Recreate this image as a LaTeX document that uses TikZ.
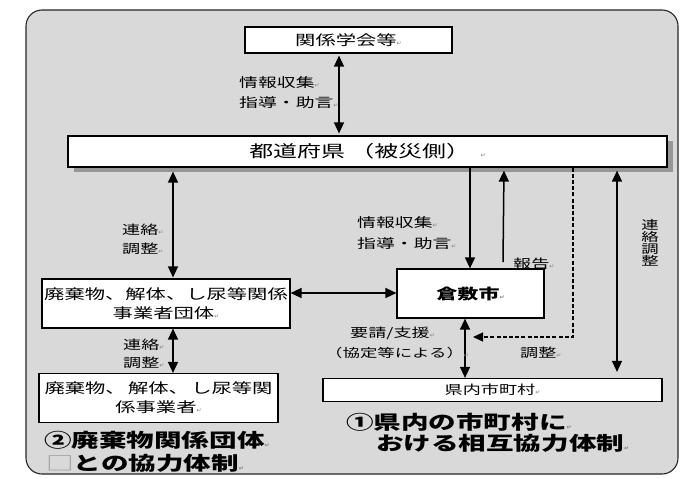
\documentclass[tikz,border=0pt]{standalone}
\usepackage{fontspec}
\setmainfont{Noto Sans CJK JP}[FakeStretch=1.45]
\newfontfamily\symfont{DejaVu Sans}
\usetikzlibrary{arrows.meta,shadows}
\definecolor{bggray}{RGB}{217,217,217}
\definecolor{shadowgray}{RGB}{150,150,150}
\newcommand{\rt}{{\symfont\fontsize{6}{6}\selectfont\color{gray}↵}}
\begin{document}
\begin{tikzpicture}[x=1pt,y=-1pt,
 box/.style={draw=black, line width=1.2pt, fill=white, inner sep=0pt, align=center},
 lbl/.style={inner sep=0pt, font=\fontsize{12.5}{12.5}\selectfont, anchor=west},
 captext/.style={inner sep=0pt, font=\fontsize{19}{19}\selectfont\bfseries, anchor=west},
 dbl/.style={line width=1.5pt, {Triangle[length=11pt,width=10pt]}-{Triangle[length=11pt,width=10pt]}},
 sgl/.style={line width=1.5pt, -{Triangle[length=11pt,width=10pt]}},
]
\useasboundingbox (0,0) rectangle (690,477);
% outer panel
\draw[fill=bggray, draw=black!85, line width=1.1pt, rounded corners=16pt] (26,10) rectangle (678,474);

% boxes
\node[box, minimum width=207pt, minimum height=26pt, font=\fontsize{14}{14}\selectfont] (kankei) at (348.5,40) {関係学会等\rt};
\node[box, minimum width=599pt, minimum height=31pt, font=\fontsize{16.5}{16.5}\selectfont,
      drop shadow={shadow xshift=6pt, shadow yshift=-5pt, fill=shadowgray, opacity=1}] (todo) at (367.5,151.5) {都道府県\ （被災側）\ \ \rt};
\node[box, minimum width=248pt, minimum height=49pt, font=\fontsize{14}{19}\selectfont] (haikidan) at (166,303.5) {廃棄物、解体、し尿等関係\\事業者団体\rt};
\node[box, minimum width=147pt, minimum height=49pt, font=\fontsize{14.5}{14.5}\selectfont] (kura) at (470.5,293.5) {\bfseries 倉敷市\rt};
\node[box, minimum width=339pt, minimum height=23pt, font=\fontsize{12.5}{12.5}\selectfont] (kennai) at (492.5,390) {県内市町村\rt};
\node[box, minimum width=239pt, minimum height=49pt, font=\fontsize{14}{19}\selectfont] (haijig) at (158.5,398) {廃棄物、\,解体、\,し尿等関\\係事業者\rt};

% helper coordinates
\coordinate (xa) at (339,0);
\coordinate (xb) at (173,0);
\coordinate (yc) at (0,293);
\coordinate (xd) at (470,0);
\coordinate (xe) at (504,0);
\coordinate (upTail) at (503,262);
\coordinate (xf) at (573,0);
\coordinate (dashEnd) at (473,337);
\coordinate (xg) at (617,0);
\coordinate (xh) at (465,0);

% connectors
\draw[dbl, shorten <=2pt, shorten >=2pt] (kankei.south -| xa) -- (todo.north -| xa);
\draw[dbl, shorten <=4pt, shorten >=1pt] (todo.south -| xb) -- (haikidan.north -| xb);
\draw[dbl] (haikidan.east |- yc) -- (kura.west |- yc);
\draw[sgl] (todo.south -| xd) -- (kura.north -| xd);
\draw[sgl, shorten >=3pt] (upTail) -- (todo.south -| xe);
\draw[line width=1.3pt, dash pattern=on 4pt off 2.2pt, -{Triangle[length=10pt,width=9pt]}] (todo.south -| xf) |- (dashEnd);
\draw[dbl, shorten <=3pt, shorten >=6pt] (todo.south -| xg) -- (kennai.north -| xg);
\draw[dbl] (kura.south -| xh) -- (kennai.north -| xh);
\draw[dbl] (haikidan.south -| xb) -- (haijig.north -| xb);

% labels
\node[lbl, font=\fontsize{13}{13}\selectfont] (l1) at (239,83) {情報収集\rt};
\node[lbl, font=\fontsize{13}{13}\selectfont] (l2) at (239,103) {指導・助言\rt};
\node[lbl] (l3) at (122,230) {連絡\rt};
\node[lbl] (l4) at (122,249) {調整\rt};
\node[lbl] (l5) at (123,345) {連絡\rt};
\node[lbl] (l6) at (123,363) {調整\rt};
\node[lbl, font=\fontsize{13}{13}\selectfont] (l7) at (357,223) {情報収集\rt};
\node[lbl, font=\fontsize{13}{13}\selectfont] (l8) at (357,244) {指導・助言\rt};
\node[lbl] (l9) at (513,264) {報告\rt};
\node[lbl] (l10) at (350,333) {要請/支援\rt};
\node[lbl, font=\fontsize{12}{12}\selectfont] (l11) at (325,353) {（協定等による）\rt};
\node[lbl] (l12) at (520,353) {調整\rt};
\node[inner sep=0pt, align=center, font=\fontsize{12}{12}\selectfont] (l13) at (650,243) {連\\絡\\調\\整};

% captions
\node[captext] (c1) at (346,422) {①県内の市町村に\rt};
\node[captext] (c2) at (376,443) {おける相互協力体制\rt};
\node[captext] (c3) at (44,440) {②廃棄物関係団体\rt};
\node[captext] (c4) at (46,463) {{\mdseries\color{gray!80}□}との協力体制\rt};
\end{tikzpicture}
\end{document}
